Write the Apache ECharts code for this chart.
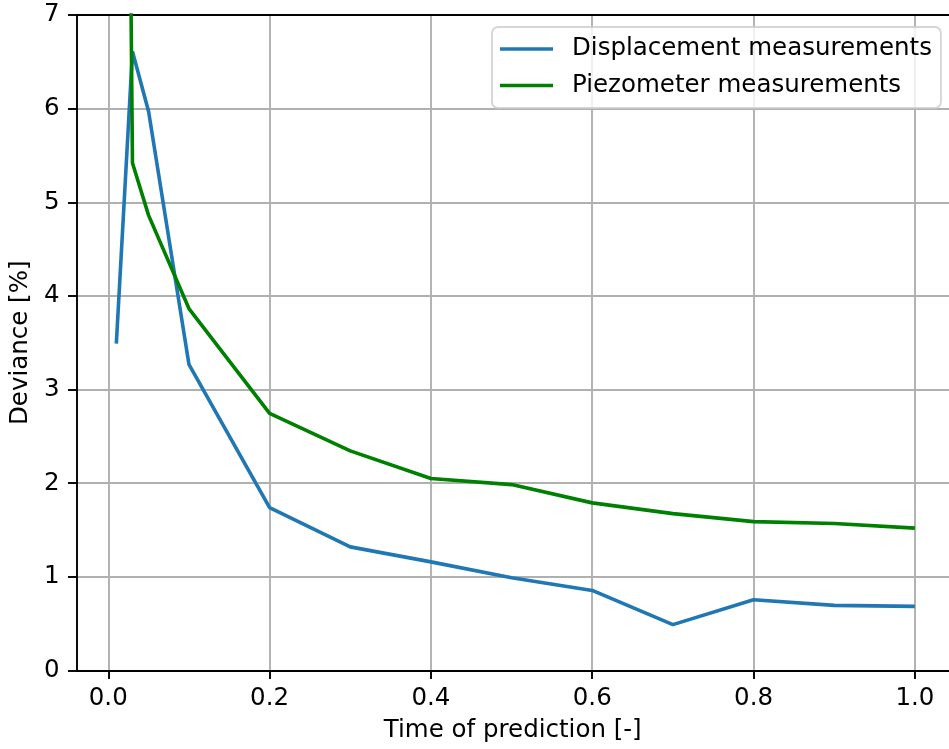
<!DOCTYPE html>
<html>
<head>
<meta charset="utf-8">
<script src="https://cdn.jsdelivr.net/npm/echarts@6/dist/echarts.min.js"></script>
<style>
  html, body { margin: 0; padding: 0; background: #fff; }
  #chart { width: 949px; height: 749px; }
</style>
</head>
<body>
<div id="chart"></div>
<script>
// Prediction times (fraction of the full record)
const timeDisp = [0.01, 0.03, 0.05, 0.1, 0.2, 0.3, 0.4, 0.5, 0.6, 0.7, 0.8, 0.9, 1.0];
const deviationDisp = [3.49, 6.61, 5.97, 3.27, 1.74, 1.32, 1.16, 0.99, 0.855, 0.49, 0.755, 0.695, 0.685];

const timePiezo = [0.01, 0.03, 0.05, 0.1, 0.2, 0.3, 0.4, 0.5, 0.6, 0.7, 0.8, 0.9, 1.0];
const deviationPiezo = [24.0, 5.42, 4.86, 3.865, 2.745, 2.345, 2.05, 1.985, 1.79, 1.675, 1.59, 1.57, 1.52];

const xTicks = [0.0, 0.2, 0.4, 0.6, 0.8, 1.0];
const seriesNames = ['Displacement measurements', 'Piezometer measurements'];

const FONT = 'DejaVu Sans';
const FS = 24.5;
const SPINE = { color: '#000', width: 1.9 };
const GRID_LINE = { color: '#b0b0b0', width: 1.9 };

function pairs(xs, ys) {
  return xs.map((x, i) => [x, ys[i]]);
}

const chart = echarts.init(document.getElementById('chart'), null, { renderer: 'canvas' });

chart.setOption({
  animation: false,
  backgroundColor: '#ffffff',
  grid: { left: 75.5, top: 15, right: 0, height: 655.5 },
  xAxis: [
    {
      type: 'value',
      min: -0.0394, max: 1.0423,
      name: 'Time of prediction [-]',
      nameLocation: 'middle',
      nameGap: 48,
      nameTextStyle: { fontFamily: FONT, fontSize: FS, color: '#000' },
      axisLine: { onZero: false, lineStyle: SPINE },
      axisTick: { show: true, customValues: xTicks, length: 8.5, lineStyle: SPINE },
      axisLabel: {
        customValues: xTicks, margin: 16,
        fontFamily: FONT, fontSize: FS, color: '#000',
        formatter: v => v.toFixed(1)
      },
      splitLine: { show: true, lineStyle: GRID_LINE }
    },
    {
      // top spine
      type: 'value',
      position: 'top',
      min: -0.0394, max: 1.0423,
      axisLine: { show: true, onZero: false, lineStyle: SPINE },
      axisTick: { show: false },
      axisLabel: { show: false },
      splitLine: { show: false }
    }
  ],
  yAxis: {
    type: 'value',
    min: 0, max: 7, interval: 1,
    name: 'Deviance [%]',
    nameLocation: 'middle',
    nameGap: 42,
    nameTextStyle: { fontFamily: FONT, fontSize: FS, color: '#000' },
    axisLine: { show: true, onZero: false, lineStyle: SPINE },
    axisTick: { show: true, length: 8.5, lineStyle: SPINE },
    axisLabel: { margin: 17, fontFamily: FONT, fontSize: FS, color: '#000' },
    splitLine: { show: true, lineStyle: GRID_LINE }
  },
  legend: {
    orient: 'vertical',
    left: 492, top: 27,
    padding: [9.5, 9, 10, 8],
    itemGap: 11.5,
    itemWidth: 53, itemHeight: 3.5,
    icon: 'rect',
    backgroundColor: 'rgba(255,255,255,0.8)',
    borderColor: 'rgba(204,204,204,0.8)',
    borderWidth: 1.9,
    borderRadius: 6,
    textStyle: { fontFamily: FONT, fontSize: FS, color: '#000', lineHeight: 24, padding: [0, 0, 0, 14] },
    data: seriesNames
  },
  series: [
    {
      name: seriesNames[0],
      type: 'line',
      data: pairs(timeDisp, deviationDisp),
      showSymbol: false,
      symbol: 'none',
      clip: true,
      color: '#1f77b4',
      lineStyle: { color: '#1f77b4', width: 3.6 },
      z: 3
    },
    {
      name: seriesNames[1],
      type: 'line',
      data: pairs(timePiezo, deviationPiezo),
      showSymbol: false,
      symbol: 'none',
      clip: true,
      color: '#008000',
      lineStyle: { color: '#008000', width: 3.6 },
      z: 4
    }
  ]
});
</script>
</body>
</html>
